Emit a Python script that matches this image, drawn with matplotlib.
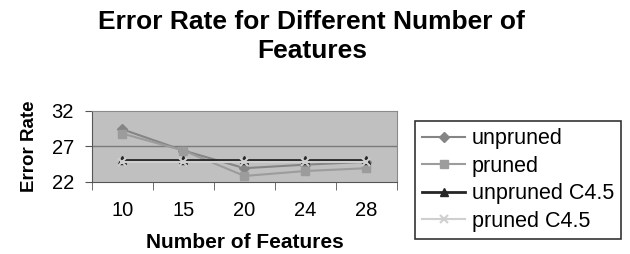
import matplotlib
matplotlib.use("Agg")
import matplotlib.pyplot as plt
import numpy as np

# values
features = ["10", "15", "20", "24", "28"]
unpruned = [29.4, 26.4, 23.9, 24.4, 24.8]
pruned = [28.8, 26.4, 22.8, 23.5, 23.9]
unpruned_c45 = [25.0, 25.0, 25.0, 25.0, 25.0]
pruned_c45 = [24.8, 24.8, 24.8, 24.8, 24.8]
yticks = [22, 27, 32]

plt.rcParams['font.family'] = ['Liberation Sans', 'DejaVu Sans']

fig = plt.figure(figsize=(6.3, 2.54), dpi=100)
ax = fig.add_axes([0.146, 0.285, 0.484, 0.278])
ax.set_facecolor("#c0c0c0")

x = np.arange(1, len(features) + 1)
ax.plot(x, unpruned, color="#858585", marker="D", ms=5, lw=1.5, label="unpruned")
ax.plot(x, pruned, color="#9c9c9c", marker="s", ms=6, lw=1.5, label="pruned")
ax.plot(x, unpruned_c45, color="#262626", marker="^", ms=6, lw=2, label="unpruned C4.5")
ax.plot(x, pruned_c45, color="#cfcfcf", marker="x", ms=6, mew=1.5, lw=1.5,
        label="pruned C4.5")

ax.set_xlim(0.5, len(features) + 0.5)
ax.set_ylim(22, 32)
ax.set_yticks(yticks)
ax.set_yticklabels([str(v) for v in yticks], fontsize=14.5)
ax.axhline(27, color="#7a7a7a", lw=1, zorder=0.5)

# excel style: labels centred, tick marks between categories
ax.set_xticks(x)
ax.set_xticklabels(features, fontsize=14.5)
ax.tick_params(axis="x", which="major", length=0, pad=14)
ax.set_xticks(np.arange(0.5, len(features) + 1), minor=True)
ax.tick_params(axis="x", which="minor", length=6, color="#555555", direction="out")
ax.tick_params(axis="y", length=5, color="#555555", pad=8)

for s in ["top", "right"]:
    ax.spines[s].set_color("#8a8a8a")
for s in ["left", "bottom"]:
    ax.spines[s].set_color("#555555")

ax.set_ylabel("Error Rate", fontsize=13.5, fontweight="bold", labelpad=10)
ax.set_xlabel("Number of Features", fontsize=15, fontweight="bold", labelpad=9)

fig.text(0.495, 0.855, "Error Rate for Different Number of\nFeatures", ha="center",
         va="center", fontsize=19, fontweight="bold", linespacing=1.25)

leg = fig.legend(loc="center left", bbox_to_anchor=(0.641, 0.291), frameon=True,
                 fancybox=False, edgecolor="black", fontsize=15.5, handlelength=2.0,
                 borderpad=0.35, labelspacing=0.3, handletextpad=0.3)
leg.get_frame().set_linewidth(1.2)

fig.savefig("out.png", dpi=100)
